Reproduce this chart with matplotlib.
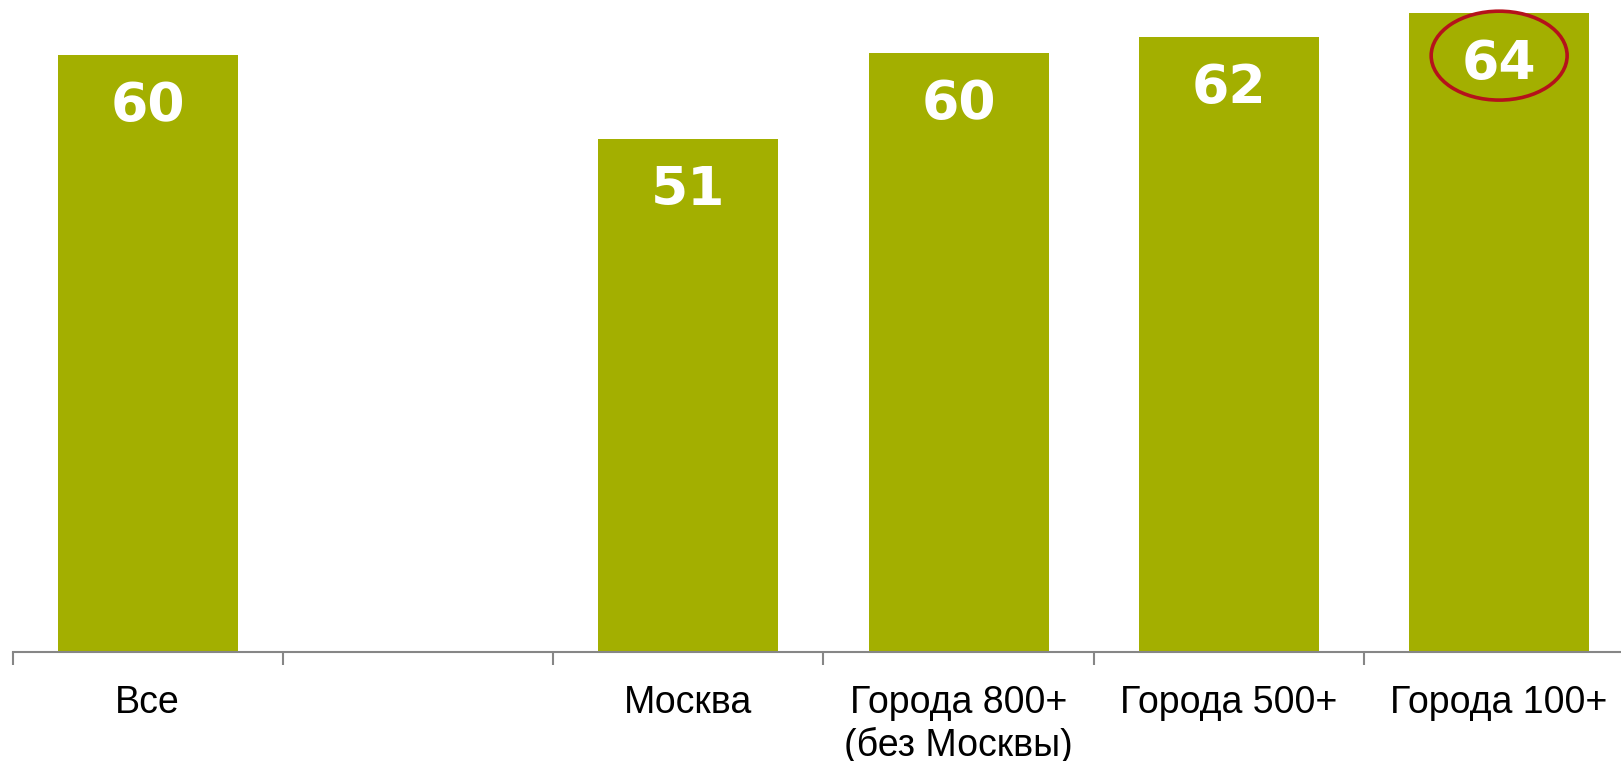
import matplotlib
matplotlib.use("Agg")
import matplotlib.pyplot as plt
from matplotlib.patches import Ellipse
import numpy as np

categories = ["Все", "", "Москва", "Города 800+\n(без Москвы)", "Города 500+", "Города 100+"]
values = [59.8, None, 51.4, 60.0, 61.6, 64.0]
highlight_index = 5

bar_color = "#A3AF00"
axis_color = "#868686"
ellipse_color = "#B5121B"

W, H = 1621, 761
fig = plt.figure(figsize=(W / 100, H / 100), dpi=100)
cat_w = 270.3
left_px = 12.5
bottom_px = 109
ax = fig.add_axes([left_px / W, bottom_px / H, 6 * cat_w / W, (H - bottom_px) / H])

x = np.arange(len(categories))
heights = [v if v is not None else 0 for v in values]
bars = ax.bar(x, heights, width=0.666, color=bar_color, zorder=2)
for b, v in zip(bars, values):
    if v is None:
        b.set_visible(False)

ax.set_xlim(-0.5, len(categories) - 0.5)
ax.set_ylim(0, 65.27)

for i, v in enumerate(values):
    if v is None:
        continue
    ax.annotate(f"{v:.0f}", xy=(x[i], v), xytext=(0, -47.5), textcoords="offset points",
                ha="center", va="baseline", color="white", fontsize=38.5,
                fontweight="bold", family="DejaVu Sans", zorder=3)

# highlight ellipse around the last label
hv = values[highlight_index]
ax.add_patch(Ellipse((x[highlight_index], hv - 4.3), width=0.503, height=8.9,
                     fill=False, edgecolor=ellipse_color, linewidth=2.6, zorder=4,
                     clip_on=False))

for s in ["top", "right", "left"]:
    ax.spines[s].set_visible(False)
ax.spines["bottom"].set_color(axis_color)
ax.spines["bottom"].set_linewidth(1.5)
ax.set_yticks([])

ax.set_xticks(np.arange(len(categories) + 1) - 0.5)
ax.set_xticklabels([])
ax.tick_params(axis="x", which="major", length=9, width=1.5, color=axis_color)
ax.set_xticks(x, minor=True)
ax.set_xticklabels(categories, minor=True, fontsize=27, family="Liberation Sans", color="black")
ax.tick_params(axis="x", which="minor", length=0, pad=24)

fig.savefig("out.png", dpi=100, facecolor="white")
